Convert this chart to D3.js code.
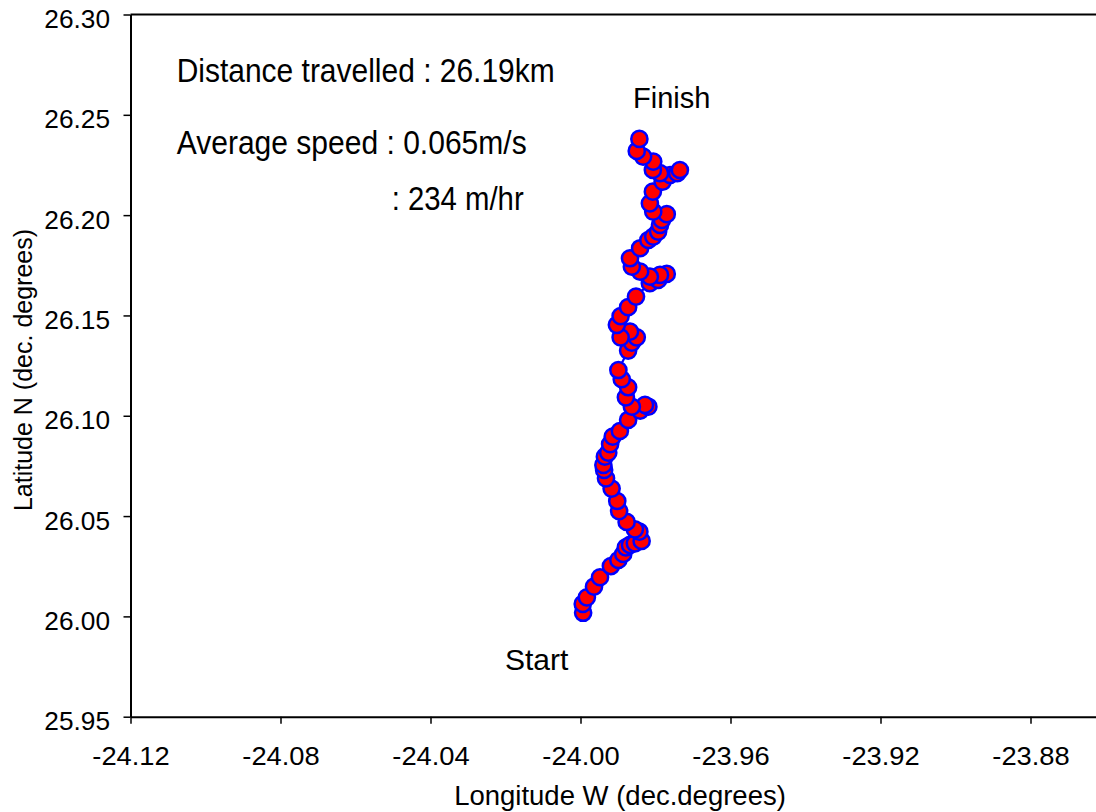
<!DOCTYPE html>
<html>
<head>
<meta charset="utf-8">
<script src="https://cdn.jsdelivr.net/npm/d3@7"></script>
<style>
  html, body { margin: 0; padding: 0; background: #fff; }
  svg { display: block; }
  text { font-family: "Liberation Sans", Arial, Helvetica, sans-serif; fill: #000; }
</style>
</head>
<body>
<svg id="chart" width="1096" height="812"></svg>
<script>
// Drifter track, start -> finish (decimal degrees)
const longitude = [
  -23.9993, -23.9994, -23.9983, -23.9964, -23.9948, -23.9919, -23.9899, -23.9886,
  -23.9879, -23.9868, -23.9855, -23.9837, -23.9843, -23.9855, -23.9877, -23.9897,
  -23.9902, -23.9917, -23.9932, -23.9937, -23.9939, -23.9935, -23.9926, -23.9921,
  -23.9914, -23.9895, -23.9873, -23.9841, -23.9819, -23.9828, -23.9863, -23.9879,
  -23.9873, -23.9890, -23.9899, -23.9873, -23.9863, -23.9850, -23.9868, -23.9893,
  -23.9903, -23.9893, -23.9873, -23.9852, -23.9815, -23.9793, -23.9770, -23.9788,
  -23.9815, -23.9841, -23.9863, -23.9868, -23.9841, -23.9819, -23.9806, -23.9793,
  -23.9788, -23.9783, -23.9770, -23.9806, -23.9815, -23.9807, -23.9781, -23.9761,
  -23.9742, -23.9735, -23.9788, -23.9807, -23.9806, -23.9833, -23.9850, -23.9843
];
const latitude = [
  26.0018, 26.0062, 26.0095, 26.0148, 26.0195, 26.0251, 26.0281, 26.0311,
  26.0344, 26.0356, 26.0364, 26.0376, 26.0422, 26.0434, 26.0471, 26.0525,
  26.0575, 26.0637, 26.0688, 26.0730, 26.0755, 26.0796, 26.0816, 26.0859,
  26.0896, 26.0924, 26.0979, 26.1025, 26.1045, 26.1054, 26.1045, 26.1092,
  26.1142, 26.1182, 26.1228, 26.1325, 26.1364, 26.1391, 26.1419, 26.1391,
  26.1453, 26.1497, 26.1541, 26.1594, 26.1661, 26.1677, 26.1707, 26.1702,
  26.1693, 26.1718, 26.1743, 26.1785, 26.1835, 26.1876, 26.1893, 26.1918,
  26.1951, 26.1976, 26.2005, 26.2017, 26.2059, 26.2117, 26.2167, 26.2200,
  26.2209, 26.2225, 26.2209, 26.2225, 26.2267, 26.2292, 26.2320, 26.2380
];

const lonDomain = [-24.12, -23.86];
const latDomain = [25.95, 26.30];
const lonTicks = [-24.12, -24.08, -24.04, -24.00, -23.96, -23.92, -23.88];
const latTicks = [25.95, 26.00, 26.05, 26.10, 26.15, 26.20, 26.25, 26.30];

const xTitle = "Longitude W (dec.degrees)";
const yTitle = "Latitude N (dec. degrees)";
const notes = ["Distance travelled : 26.19km", "Average speed : 0.065m/s", ": 234 m/hr"];
const startLabel = "Start";
const finishLabel = "Finish";

const svg = d3.select("#chart");

const x = d3.scaleLinear().domain(lonDomain).range([130.5, 1105.5]);
const y = d3.scaleLinear().domain(latDomain).range([716.7, 14.5]);

// two decimals with a plain hyphen for negatives
const fmt = d => d.toFixed(2);

// stretch a text element horizontally by factor k
function stretch(sel, k) {
  sel.each(function () {
    const w = this.getComputedTextLength();
    d3.select(this).attr("textLength", w * k).attr("lengthAdjust", "spacingAndGlyphs");
  });
}

// top frame line
svg.append("line")
  .attr("x1", x.range()[0]).attr("x2", x.range()[1])
  .attr("y1", y(latDomain[1])).attr("y2", y(latDomain[1]))
  .attr("stroke", "#000").attr("stroke-width", 2);

// y axis
const gy = svg.append("g")
  .attr("transform", `translate(${x.range()[0]},0)`)
  .call(d3.axisLeft(y).tickValues(latTicks).tickFormat(fmt)
        .tickSize(7).tickSizeOuter(0).tickPadding(13.5));
gy.select(".domain").attr("stroke-width", 2);
gy.selectAll(".tick line").attr("stroke-width", 1.5);
gy.selectAll(".tick text").style("font-size", "25px").attr("dy", 13);
stretch(gy.selectAll(".tick text"), 1.05);

// x axis
const gx = svg.append("g")
  .attr("transform", `translate(0,${y.range()[0]})`)
  .call(d3.axisBottom(x).tickValues(lonTicks).tickFormat(fmt)
        .tickSize(7).tickSizeOuter(0));
gx.select(".domain").attr("stroke-width", 2);
gx.selectAll(".tick line").attr("stroke-width", 1.5);
gx.selectAll(".tick text").style("font-size", "26.5px").attr("y", 48.5).attr("dy", 0);
stretch(gx.selectAll(".tick text"), 1.03);
svg.selectAll("g").attr("font-family", null).attr("font-size", null);

// axis titles
svg.append("text")
  .attr("x", 620).attr("y", 805)
  .attr("text-anchor", "middle").style("font-size", "27.5px")
  .text(xTitle);
svg.append("text")
  .attr("transform", "translate(32,370) rotate(-90)")
  .attr("text-anchor", "middle").style("font-size", "25px")
  .text(yTitle);

// track line and fixes
const pts = longitude.map((lon, i) => [lon, latitude[i]]);
svg.append("path")
  .datum(pts)
  .attr("fill", "none")
  .attr("stroke", "#0000ff")
  .attr("stroke-width", 2.2)
  .attr("d", d3.line().x(d => x(d[0])).y(d => y(d[1])));

svg.append("g").selectAll("circle")
  .data(pts)
  .join("circle")
  .attr("cx", d => x(d[0]))
  .attr("cy", d => y(d[1]))
  .attr("r", 8.1)
  .attr("fill", "#ff0000")
  .attr("stroke", "#0000ff")
  .attr("stroke-width", 2.5);

// annotations
const noteLayout = [
  { x: 176.7, y: 82, w: 378 },
  { x: 176.7, y: 154, w: 350 },
  { x: 391.7, y: 210, w: 132 }
];
notes.forEach((t, i) => {
  svg.append("text")
    .attr("x", noteLayout[i].x).attr("y", noteLayout[i].y)
    .style("font-size", "34px")
    .attr("textLength", noteLayout[i].w)
    .attr("lengthAdjust", "spacingAndGlyphs")
    .text(t);
});

svg.append("text")
  .attr("x", 633).attr("y", 108)
  .style("font-size", "29px")
  .text(finishLabel);
svg.append("text")
  .attr("x", 505).attr("y", 669.5)
  .style("font-size", "30px")
  .text(startLabel);
</script>
</body>
</html>
